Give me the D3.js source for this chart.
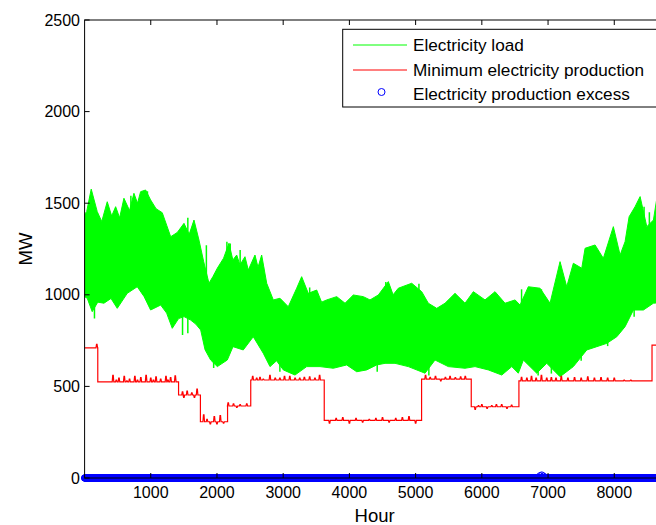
<!DOCTYPE html>
<html>
<head>
<meta charset="utf-8">
<script src="https://cdn.jsdelivr.net/npm/d3@7"></script>
<style>
    body { margin: 0; background: #fff; }
    svg { display: block; font-family: "Liberation Sans", Arial, sans-serif; }
</style>
</head>
<body>
<script>
(function(){
    //load: upper and lower edge of the green band [hour, MW]
    var loadTop = [[1,1440],[32,1454],[101,1577],[192,1454],[260,1400],[343,1508],[410,1430],[470,1481],[530,1420],[595,1527],[680,1460],[746,1554],[800,1500],[847,1563],[923,1572],[998,1518],[1080,1470],[1174,1448],[1240,1380],[1301,1317],[1400,1340],[1502,1390],[1580,1330],[1653,1408],[1728,1299],[1800,1180],[1879,1063],[1940,1100],[2005,1145],[2100,1200],[2181,1281],[2240,1190],[2298,1217],[2347,1163],[2423,1208],[2473,1135],[2574,1217],[2620,1150],[2675,1217],[2751,1063],[2851,972],[2952,981],[3077,935],[3204,1036],[3279,1099],[3379,1008],[3506,1026],[3580,960],[3657,972],[3808,990],[3934,954],[4059,999],[4210,990],[4311,972],[4437,999],[4588,1072],[4660,1000],[4739,1036],[4941,1063],[5092,1017],[5192,954],[5319,926],[5444,954],[5595,1008],[5746,954],[5872,1017],[6048,972],[6199,1017],[6350,954],[6502,972],[6577,944],[6702,1044],[6879,1036],[7030,954],[7181,1181],[7282,1044],[7382,1172],[7509,1145],[7559,1254],[7710,1272],[7835,1199],[7986,1372],[8088,1217],[8163,1290],[8224,1426],[8314,1481],[8390,1536],[8491,1372],[8591,1408],[8640,1520],[8760,1400]];
    var loadBottom = [[1,990],[41,981],[116,908],[200,960],[293,954],[400,980],[494,926],[645,1008],[796,1044],[900,990],[998,917],[1150,944],[1240,900],[1325,817],[1420,870],[1502,881],[1603,862],[1680,840],[1754,808],[1820,700],[1905,644],[2005,608],[2156,644],[2242,717],[2397,699],[2548,771],[2699,681],[2801,608],[2900,640],[3002,590],[3178,562],[3355,608],[3556,608],[3757,599],[3959,617],[4110,580],[4261,590],[4412,617],[4538,626],[4689,626],[4890,608],[5142,572],[5293,644],[5494,608],[5746,599],[5897,608],[6098,590],[6301,562],[6452,608],[6551,572],[6627,644],[6829,572],[6980,626],[7181,553],[7382,608],[7585,699],[7736,717],[7887,735],[8038,771],[8163,826],[8289,917],[8440,917],[8591,954],[8760,960]];
    //single peaks and dips that stick out of the band [hour, MW]
    var loadSpikes = [[700,1540],[950,1565],[1560,1420],[1840,1270],[2150,1290],[2200,1280],[2350,1245],[2700,1150],[3400,1040],[4550,1070],[5050,1060],[6600,1030],[6900,1030],[7400,1130],[8000,1300],[8450,1480],[8530,1450],
                      [150,870],[1480,780],[1560,790],[1950,600],[2950,580],[4420,580],[5200,560],[6200,580],[6850,560],[7050,570],[7500,640],[7900,720],[8300,880]];

    //minimum production: steps and the noise spikes on them
    var redStepHours  = [1, 200, 1420, 1750, 2160, 2510, 3620, 5090, 5840, 6560, 8570, 8760];
    var redStepLevels = [710, 525, 453, 307, 393, 535, 315, 540, 389, 530, 725];
    var redSpikes = [[185,730],
        [430,560],[480,535],[520,545],[600,555],[640,530],[680,540],[760,555],[800,535],[850,548],[930,560],[1000,545],[1040,535],[1080,552],[1150,540],[1230,555],[1260,535],[1300,548],[1370,558],
        [1480,470],[1500,440],[1550,475],[1620,465],[1660,440],[1700,485],
        [1800,345],[1850,320],[1900,295],[1960,335],[2000,295],[2050,340],[2100,300],
        [2170,410],[2250,405],[2300,385],[2350,400],[2450,405],
        [2540,555],[2600,545],[2650,550],[2700,540],[2800,560],[2880,545],[2950,545],[3020,555],[3100,555],[3180,545],[3250,545],[3320,550],[3400,552],[3480,545],[3550,560],
        [3700,300],[3800,325],[3900,330],[4000,300],[4100,325],[4200,305],[4300,320],[4400,325],[4500,330],[4600,305],[4700,325],[4800,330],[4900,335],[5000,300],
        [5150,560],[5220,550],[5300,555],[5380,530],[5450,550],[5520,555],[5600,548],[5680,552],[5750,555],
        [5900,375],[5950,395],[6000,400],[6080,380],[6150,395],[6220,400],[6300,400],[6380,380],[6450,398],
        [6600,550],[6680,545],[6750,555],[6820,545],[6900,560],[6980,545],[7050,548],[7120,545],[7200,555],[7300,545],[7400,548],[7500,545],[7600,552],[7700,545],[7800,548],[7900,545],[8000,545],[8150,535],[8250,535]];

    //production excess: zero all year (one marker every 4 hours) except these hours
    var excessStep = 4;
    var excessHits = [[6880,12],[6905,16],[6930,10]];

    var xTicks = [1000,2000,3000,4000,5000,6000,7000,8000];
    var yTicks = [0,500,1000,1500,2000,2500];
    var legendLabels = ["Electricity load", "Minimum electricity production", "Electricity production excess"];

    window.onload = setChart();

    function setChart(){
        var width = 656, height = 525;
        var left = 84.6, top = 20, plotW = 580, plotH = 458;

        var svg = d3.select("body").append("svg")
            .attr("width", width)
            .attr("height", height);

        var x = d3.scaleLinear().domain([1, 8760]).range([left, left + plotW]);
        var y = d3.scaleLinear().domain([0, 2500]).range([top + plotH, top]);

        svg.append("clipPath").attr("id", "plotclip")
            .append("rect").attr("x", left).attr("y", top).attr("width", plotW).attr("height", plotH);

        //green load band: top edge left to right, bottom edge back
        var ring = loadTop.concat(loadBottom.slice().reverse());
        var line = d3.line().x(function(d){ return x(d[0]); }).y(function(d){ return y(d[1]); });
        var loadG = svg.append("g").attr("clip-path", "url(#plotclip)");
        loadG.append("path")
            .attr("d", line(ring) + "Z")
            .attr("fill", "#00ff00")
            .attr("stroke", "#00ff00")
            .attr("stroke-width", 1);
        //spikes sticking out of the band
        var topAt = function(h){ return d3.bisector(function(d){ return d[0]; }).left(loadTop, h); };
        loadG.selectAll(".spike")
            .data(loadSpikes)
            .enter()
            .append("line")
            .attr("class", "spike")
            .attr("x1", function(d){ return x(d[0]); }).attr("x2", function(d){ return x(d[0]); })
            .attr("y1", function(d){
                var i = Math.min(topAt(d[0]), loadTop.length - 1);
                return d[1] > 1000 ? y(loadTop[i][1] - 100) : y(loadBottom[Math.min(d3.bisector(function(e){ return e[0]; }).left(loadBottom, d[0]), loadBottom.length - 1)][1] + 100);
            })
            .attr("y2", function(d){ return y(d[1]); })
            .attr("stroke", "#00ff00").attr("stroke-width", 1.5);

        //red step line with its spikes
        var redPts = [];
        for (var s = 0; s < redStepLevels.length; s++){
            var h0 = redStepHours[s], h1 = redStepHours[s + 1], lev = redStepLevels[s];
            redPts.push([h0, lev]);
            redSpikes.forEach(function(p){
                if (p[0] > h0 && p[0] < h1){
                    redPts.push([p[0] - 12, lev]);
                    redPts.push([p[0] - 4, p[1]]);
                    redPts.push([p[0] + 4, p[1]]);
                    redPts.push([p[0] + 12, lev]);
                }
            });
            redPts.push([h1, lev]);
        }
        svg.append("path")
            .datum(redPts)
            .attr("clip-path", "url(#plotclip)")
            .attr("fill", "none")
            .attr("stroke", "#ff0000")
            .attr("stroke-width", 1.2)
            .attr("d", line);

        //blue excess markers
        var excess = [];
        for (var h = 1; h <= 8760; h += excessStep) excess.push([h, 0]);
        excess = excess.concat(excessHits);
        svg.append("g").selectAll("circle")
            .data(excess)
            .enter()
            .append("circle")
            .attr("cx", function(d){ return x(d[0]); })
            .attr("cy", function(d){ return y(d[1]); })
            .attr("r", 3.2)
            .attr("fill", "none")
            .attr("stroke", "#0000ff")
            .attr("stroke-width", 1);

        //axes box with inward ticks
        var axes = svg.append("g");
        axes.append("rect")
            .attr("x", left).attr("y", top).attr("width", plotW).attr("height", plotH)
            .attr("fill", "none").attr("stroke", "#000").attr("stroke-width", 1);
        xTicks.forEach(function(t){
            axes.append("line").attr("x1", x(t)).attr("x2", x(t)).attr("y1", top + plotH).attr("y2", top + plotH - 5).attr("stroke", "#000");
            axes.append("line").attr("x1", x(t)).attr("x2", x(t)).attr("y1", top).attr("y2", top + 5).attr("stroke", "#000");
            axes.append("text").attr("x", x(t)).attr("y", 498).attr("text-anchor", "middle")
                .attr("font-size", 16).text(t);
        });
        yTicks.forEach(function(t){
            axes.append("line").attr("x1", left).attr("x2", left + 5).attr("y1", y(t)).attr("y2", y(t)).attr("stroke", "#000");
            axes.append("text").attr("x", 80).attr("y", y(t)).attr("dy", "0.35em").attr("text-anchor", "end")
                .attr("font-size", 16).text(t);
        });

        //axis labels
        svg.append("text").attr("x", left + plotW / 2).attr("y", 522).attr("text-anchor", "middle")
            .attr("font-size", 18.5).text("Hour");
        svg.append("text").attr("transform", "translate(32," + (top + plotH / 2) + ") rotate(-90)")
            .attr("text-anchor", "middle").attr("font-size", 18.5).text("MW");

        //legend
        var lg = svg.append("g");
        lg.append("rect").attr("x", 342.7).attr("y", 29.3).attr("width", 320).attr("height", 77.7)
            .attr("fill", "#fff").attr("stroke", "#000").attr("stroke-width", 1);
        var rowY = [45, 70, 94];
        lg.append("line").attr("x1", 353).attr("x2", 407).attr("y1", rowY[0]).attr("y2", rowY[0]).attr("stroke", "#00ff00");
        lg.append("line").attr("x1", 353).attr("x2", 407).attr("y1", rowY[1]).attr("y2", rowY[1]).attr("stroke", "#ff0000");
        lg.append("circle").attr("cx", 381.5).attr("cy", rowY[2] - 2).attr("r", 3.5).attr("fill", "none").attr("stroke", "#0000ff");
        legendLabels.forEach(function(l, i){
            lg.append("text").attr("x", 413).attr("y", rowY[i]).attr("dy", "0.35em")
                .attr("font-size", 17.2).text(l);
        });
    };
})();
</script>
</body>
</html>
